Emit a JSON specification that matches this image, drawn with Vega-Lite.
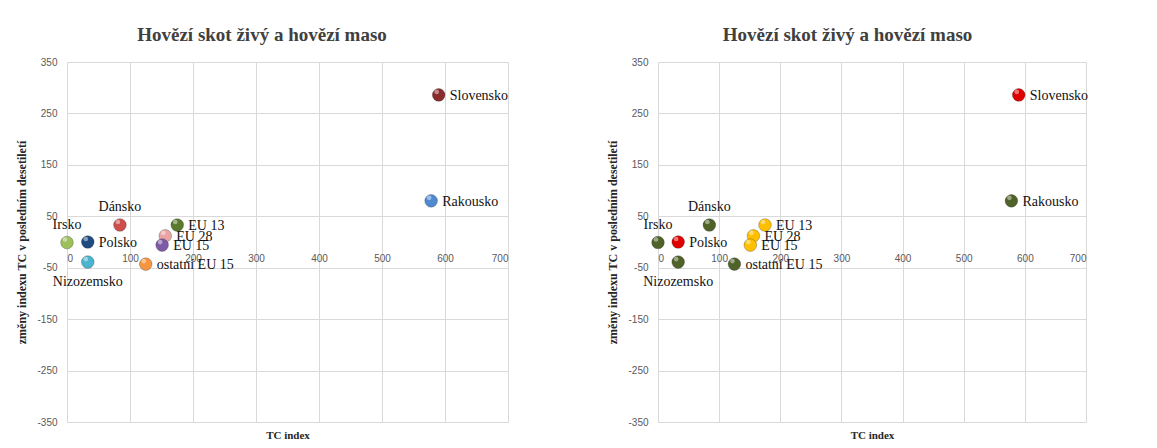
{
  "$schema": "https://vega.github.io/schema/vega-lite/v6.json",
  "padding": {"left": 15, "top": 26, "right": 5, "bottom": 5},
  "background": "white",
  "spacing": 97,
  "datasets": {
    "pts": [
      {"name": "Slovensko", "tc": 590, "change": 286},
      {"name": "Rakousko", "tc": 578, "change": 80},
      {"name": "Dánsko", "tc": 84, "change": 33},
      {"name": "EU 13", "tc": 175, "change": 33},
      {"name": "EU 28", "tc": 156, "change": 12},
      {"name": "EU 15", "tc": 151, "change": -6},
      {"name": "Irsko", "tc": 0, "change": -1},
      {"name": "Polsko", "tc": 33, "change": 0},
      {"name": "Nizozemsko", "tc": 33, "change": -39},
      {"name": "ostatní EU 15", "tc": 125, "change": -43}
    ]
  },
  "config": {
    "view": {"stroke": null},
    "axis": {
      "gridColor": "#d9d9d9",
      "gridWidth": 1,
      "domain": false,
      "ticks": false,
      "labelFont": "Liberation Sans",
      "labelFontSize": 10,
      "labelColor": "#595959",
      "labelExpr": "replace(datum.label, '−', '-')",
      "titleFont": "Liberation Serif",
      "titleFontWeight": "bold",
      "titleFontSize": 11,
      "titleColor": "#262626"
    },
    "title": {
      "font": "Liberation Serif",
      "fontSize": 19,
      "fontWeight": "bold",
      "color": "#404040",
      "frame": "bounds",
      "anchor": "middle",
      "offset": 12
    },
    "text": {"font": "Liberation Serif", "fontSize": 14, "color": "#111111"}
  },
  "resolve": {"scale": {"color": "independent", "x": "independent", "y": "independent"}},
  "hconcat": [
    {
      "width": 441,
      "height": 360,
      "title": "Hovězí skot živý a hovězí maso",
      "data": {"name": "pts"},
      "resolve": {"axis": {"x": "independent"}},
      "encoding": {
        "y": {"field": "change", "type": "quantitative", "scale": {"domain": [-350, 350], "nice": false},
              "axis": {"values": [-350, -250, -150, -50, 50, 150, 250, 350], "grid": true, "labelPadding": 10, "title": "změny indexu TC v posledním desetiletí", "titlePadding": 8, "titleFontSize": 12}}
      },
      "layer": [
        {
          "mark": {"type": "circle", "size": 160, "opacity": 1, "stroke": "#303030", "strokeWidth": 0.6, "strokeOpacity": 0.5},
          "encoding": {
            "x": {"field": "tc", "type": "quantitative", "scale": {"domain": [0, 700], "nice": false},
                  "axis": {"values": [0, 100, 200, 300, 400, 500, 600, 700], "grid": true, "labels": false, "title": "TC index", "titlePadding": 7}},
            "color": {
              "field": "name", "type": "nominal", "legend": null,
              "scale": {
                "domain": ["Slovensko", "Rakousko", "Dánsko", "EU 13", "EU 28", "EU 15", "Irsko", "Polsko", "Nizozemsko", "ostatní EU 15"],
                "range": ["#8a2c2c", "#4f8ad0", "#cf4d4d", "#5b7a2b", "#e9a4a4", "#7e5aa6", "#9cc15b", "#1f4b80", "#4bb4cf", "#f5963f"]
              }
            }
          }
        },
        {
          "mark": {"type": "circle", "size": 22, "opacity": 0.45, "color": "white", "xOffset": -2, "yOffset": -3},
          "encoding": {
            "x": {"field": "tc", "type": "quantitative", "axis": null}
          }
        },
        {
          "transform": [{"filter": {"field": "name", "oneOf": ["Slovensko", "Rakousko", "EU 13", "EU 28", "EU 15", "Polsko", "ostatní EU 15"]}}],
          "mark": {"type": "text", "align": "left", "baseline": "middle", "dx": 11, "dy": 1},
          "encoding": {
            "x": {"field": "tc", "type": "quantitative", "axis": {"orient": "bottom", "offset": -180, "values": [0, 100, 200, 300, 400, 500, 600, 700], "grid": false, "labelPadding": 11, "title": null}},
            "text": {"field": "name"}
          }
        },
        {
          "transform": [{"filter": {"field": "name", "oneOf": ["Dánsko", "Irsko"]}}],
          "mark": {"type": "text", "align": "center", "baseline": "middle", "dy": -18},
          "encoding": {
            "x": {"field": "tc", "type": "quantitative", "axis": null},
            "text": {"field": "name"}
          }
        },
        {
          "transform": [{"filter": {"field": "name", "oneOf": ["Nizozemsko"]}}],
          "mark": {"type": "text", "align": "center", "baseline": "middle", "dy": 20},
          "encoding": {
            "x": {"field": "tc", "type": "quantitative", "axis": null},
            "text": {"field": "name"}
          }
        }
      ]
    },
    {
      "width": 428,
      "height": 360,
      "title": "Hovězí skot živý a hovězí maso",
      "data": {"name": "pts"},
      "resolve": {"axis": {"x": "independent"}},
      "encoding": {
        "y": {"field": "change", "type": "quantitative", "scale": {"domain": [-350, 350], "nice": false},
              "axis": {"values": [-350, -250, -150, -50, 50, 150, 250, 350], "grid": true, "labelPadding": 10, "title": "změny indexu TC v posledním desetiletí", "titlePadding": 8, "titleFontSize": 12}}
      },
      "layer": [
        {
          "mark": {"type": "circle", "size": 160, "opacity": 1, "stroke": "#303030", "strokeWidth": 0.6, "strokeOpacity": 0.5},
          "encoding": {
            "x": {"field": "tc", "type": "quantitative", "scale": {"domain": [0, 700], "nice": false},
                  "axis": {"values": [0, 100, 200, 300, 400, 500, 600, 700], "grid": true, "labels": false, "title": "TC index", "titlePadding": 7}},
            "color": {
              "field": "name", "type": "nominal", "legend": null,
              "scale": {
                "domain": ["Slovensko", "Rakousko", "Dánsko", "EU 13", "EU 28", "EU 15", "Irsko", "Polsko", "Nizozemsko", "ostatní EU 15"],
                "range": ["#e00000", "#4f6228", "#4f6228", "#ffc000", "#ffc000", "#ffc000", "#4f6228", "#e00000", "#4f6228", "#4f6228"]
              }
            }
          }
        },
        {
          "mark": {"type": "circle", "size": 22, "opacity": 0.45, "color": "white", "xOffset": -2, "yOffset": -3},
          "encoding": {
            "x": {"field": "tc", "type": "quantitative", "axis": null}
          }
        },
        {
          "transform": [{"filter": {"field": "name", "oneOf": ["Slovensko", "Rakousko", "EU 13", "EU 28", "EU 15", "Polsko", "ostatní EU 15"]}}],
          "mark": {"type": "text", "align": "left", "baseline": "middle", "dx": 11, "dy": 1},
          "encoding": {
            "x": {"field": "tc", "type": "quantitative", "axis": {"orient": "bottom", "offset": -180, "values": [0, 100, 200, 300, 400, 500, 600, 700], "grid": false, "labelPadding": 11, "title": null}},
            "text": {"field": "name"}
          }
        },
        {
          "transform": [{"filter": {"field": "name", "oneOf": ["Dánsko", "Irsko"]}}],
          "mark": {"type": "text", "align": "center", "baseline": "middle", "dy": -18},
          "encoding": {
            "x": {"field": "tc", "type": "quantitative", "axis": null},
            "text": {"field": "name"}
          }
        },
        {
          "transform": [{"filter": {"field": "name", "oneOf": ["Nizozemsko"]}}],
          "mark": {"type": "text", "align": "center", "baseline": "middle", "dy": 20},
          "encoding": {
            "x": {"field": "tc", "type": "quantitative", "axis": null},
            "text": {"field": "name"}
          }
        }
      ]
    }
  ]
}
